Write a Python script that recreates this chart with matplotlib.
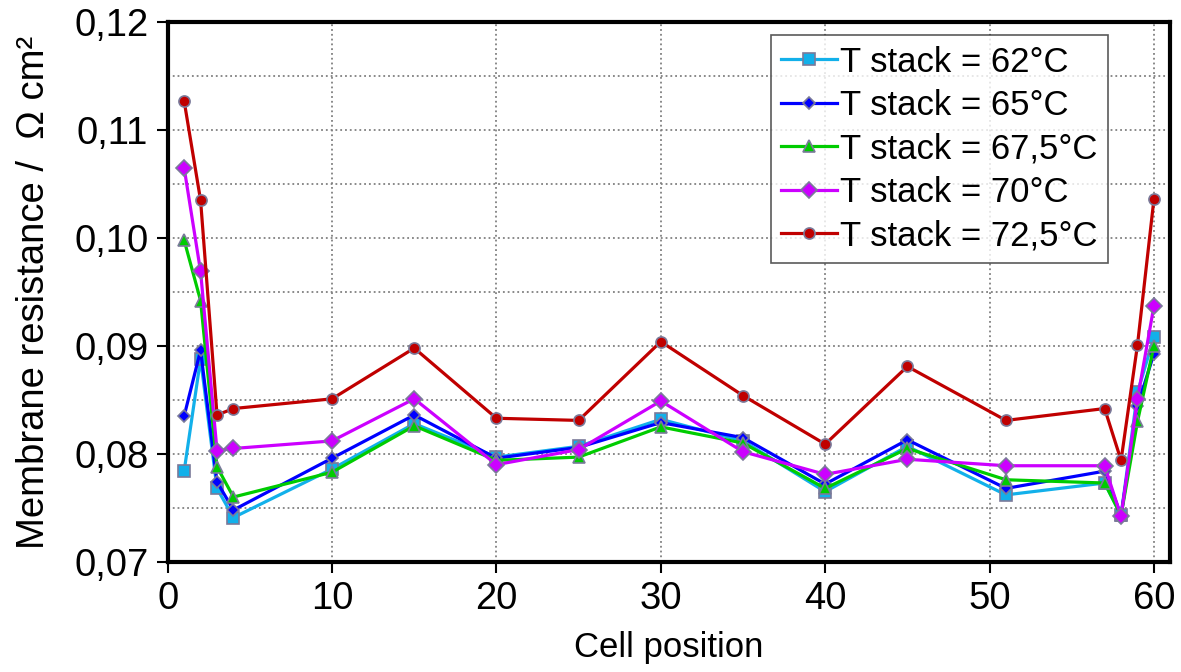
import matplotlib.pyplot as plt
from matplotlib.ticker import FuncFormatter, MultipleLocator

plt.rcParams['font.family'] = ['Liberation Sans', 'DejaVu Sans']

cells = [1, 2, 3, 4, 10, 15, 20, 25, 30, 35, 40, 45, 51, 57, 58, 59, 60]

r62 = [0.0784, 0.0888, 0.0768, 0.0741, 0.0786, 0.0828, 0.0797, 0.0807, 0.0832,
       0.0812, 0.0765, 0.0807, 0.0762, 0.0773, 0.0743, 0.0857, 0.0908]
r65 = [0.0835, 0.0896, 0.0774, 0.0748, 0.0796, 0.0836, 0.0796, 0.0806, 0.0829,
       0.0815, 0.0772, 0.0813, 0.0768, 0.0784, 0.0743, 0.0844, 0.0893]
r675 = [0.0998, 0.0942, 0.0788, 0.0760, 0.0783, 0.0826, 0.0794, 0.0797, 0.0825,
        0.0810, 0.0768, 0.0805, 0.0776, 0.0773, 0.0743, 0.0830, 0.0900]
r70 = [0.1065, 0.0969, 0.0803, 0.0805, 0.0812, 0.0851, 0.0790, 0.0804, 0.0849,
       0.0802, 0.0781, 0.0795, 0.0789, 0.0789, 0.0742, 0.0851, 0.0937]
r725 = [0.1127, 0.1035, 0.0836, 0.0842, 0.0851, 0.0898, 0.0833, 0.0831, 0.0904,
        0.0854, 0.0809, 0.0881, 0.0831, 0.0842, 0.0794, 0.0901, 0.1036]

labels = ['T stack = 62°C', 'T stack = 65°C', 'T stack = 67,5°C',
          'T stack = 70°C', 'T stack = 72,5°C']
series = [r62, r65, r675, r70, r725]
colors = ['#12b0ea', '#0000ff', '#00cc00', '#cc00ff', '#c00000']
markers = ['s', 'D', '^', 'D', 'o']
msizes = [8, 6.5, 9, 8, 8]

fig = plt.figure(figsize=(11.81, 6.72), dpi=100)
ax = fig.add_axes([0.142, 0.164, 0.849, 0.803])

for y, lab, c, m, ms in zip(series, labels, colors, markers, msizes):
    ax.plot(cells, y, color=c, lw=2.3, marker=m, ms=ms, mfc=c,
            mec='#7a7a9a', mew=1.2, label=lab)

ax.set_xlim(0, 61)
ax.set_ylim(0.07, 0.12)
ax.xaxis.set_major_locator(MultipleLocator(10))
ax.yaxis.set_major_locator(MultipleLocator(0.01))
ax.yaxis.set_minor_locator(MultipleLocator(0.005))
ax.yaxis.set_major_formatter(FuncFormatter(lambda v, p: f'{v:.2f}'.replace('.', ',')))

ax.grid(True, which='major', axis='x', ls=':', color='#808080', lw=1.3)
ax.grid(True, which='both', axis='y', ls=':', color='#808080', lw=1.3)
ax.set_axisbelow(True)

for s in ax.spines.values():
    s.set_linewidth(3)
ax.tick_params(axis='both', which='major', labelsize=27.5, length=8, width=1.5,
               direction='out', pad=6)
ax.tick_params(axis='y', which='minor', length=0)

ax.set_xlabel('Cell position', fontsize=25, labelpad=10)
ax.set_ylabel('Membrane resistance /  Ω cm²', fontsize=27.5, labelpad=16)

leg = ax.legend(loc='upper right', bbox_to_anchor=(0.938, 0.976), fontsize=25,
                frameon=True, fancybox=False, edgecolor='#303030',
                borderpad=0.3, labelspacing=0.3, handlelength=1.6,
                handletextpad=0.1, borderaxespad=0)
leg.get_frame().set_linewidth(1.2)

fig.savefig('out.png', dpi=100)
